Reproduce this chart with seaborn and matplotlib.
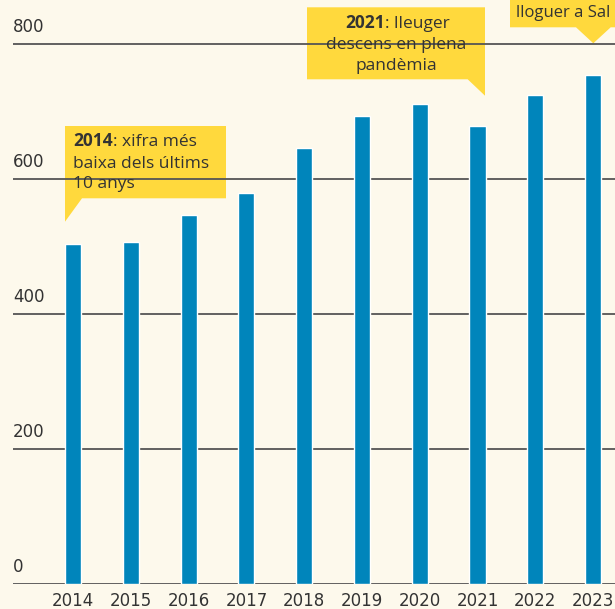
import matplotlib
matplotlib.use("Agg")
import matplotlib.pyplot as plt
import matplotlib.transforms as mtransforms
from matplotlib.patches import Polygon
import pandas as pd
import seaborn as sns


# Data (average monthly rent, euros)
years = ["2014", "2015", "2016", "2017", "2018", "2019", "2020", "2021", "2022", "2023"]
rents = [503, 506, 546, 579, 645, 693, 711, 678, 724, 754]
y_ticks = [0, 200, 400, 600, 800]

# Colours
BG = "#FDF9EC"
BLUE = "#0085BB"
YELLOW = "#FFD93D"
INK = "#333333"
GRID = "#555555"

W, H = 615, 609


sns.set_theme(style="white", rc={"axes.facecolor": BG, "figure.facecolor": BG})
plt.rcParams["font.family"] = ["Open Sans", "DejaVu Sans"]

fig = plt.figure(figsize=(W / 100, H / 100), dpi=100)
ax = fig.add_axes([13 / W, (H - 583.7) / H, 1 - 13 / W, 583.7 / H])

df = pd.DataFrame({"year": years, "rent": rents})
sns.barplot(df, x="year", y="rent", color=BLUE, width=0.28, saturation=1, ax=ax, zorder=2)

ax.set_xlim(-1.04, 9.38)
ax.set_ylim(0, 583.7 / 0.675)
ax.set_xlabel("")
ax.set_ylabel("")
for s in ax.spines.values():
    s.set_visible(False)

ax.set_axisbelow(True)
ax.grid(axis="y", color=GRID, linewidth=1.3)
ax.grid(axis="x", visible=False)

# y tick labels sit on top of the gridlines, left aligned
ax.set_yticks(y_ticks)
ax.tick_params(axis="y", length=0, pad=0, labelsize=12, labelcolor=INK)
lift = mtransforms.ScaledTranslation(0, 0.12, fig.dpi_scale_trans)
for lab in ax.get_yticklabels():
    lab.set_family("DejaVu Sans")
    lab.set_horizontalalignment("left")
    lab.set_verticalalignment("baseline")
    lab.set_transform(lab.get_transform() + lift)

ax.tick_params(axis="x", length=0, pad=6.3, labelsize=12, labelcolor=INK)
for lab in ax.get_xticklabels():
    lab.set_family("DejaVu Sans")


# Callouts (drawn in pixel space, y measured from the top)
PIX = mtransforms.IdentityTransform()


def pt(x, y):
    return (x, H - y)


def callout(points):
    ax.add_patch(Polygon([pt(*p) for p in points], closed=True, facecolor=YELLOW,
                         edgecolor="none", transform=PIX, zorder=0.4))


def label(x, y, s, ha="left", bold=False, size=12.5):
    return ax.text(*pt(x, y), s, transform=PIX, ha=ha, va="baseline", fontsize=size,
                   color=INK, fontweight="bold" if bold else "normal", zorder=5)


def tail(artist, s):
    return ax.annotate(s, xy=(1, 0), xycoords=artist, ha="left", va="bottom",
                       fontsize=12.5, color=INK, zorder=5)


# 2014
callout([(65, 126), (226, 126), (226, 198.3), (82, 198.3), (65, 221.7)])
t = label(73.3, 146, "2014", bold=True)
tail(t, ": xifra més")
label(73.3, 167.5, "baixa dels últims")
label(73.3, 188.5, "10 anys")

# 2021
callout([(307, 7.3), (485, 7.3), (485, 95.7), (467.7, 79.3), (307, 79.3)])
t = label(385, 28.3, "2021", ha="right", bold=True)
tail(t, ": lleuger")
label(396, 49.3, "descens en plena", ha="center")
label(396, 70.3, "pandèmia", ha="center")

# 2023 (cut by the frame)
callout([(510, -20), (640, -20), (640, 27.3), (610.7, 27.3), (593.3, 43.3),
         (576, 27.3), (510, 27.3)])
label(516, 17.3, "lloguer a Sal", size=12)

fig.savefig("out.png", dpi=100, facecolor=BG)
